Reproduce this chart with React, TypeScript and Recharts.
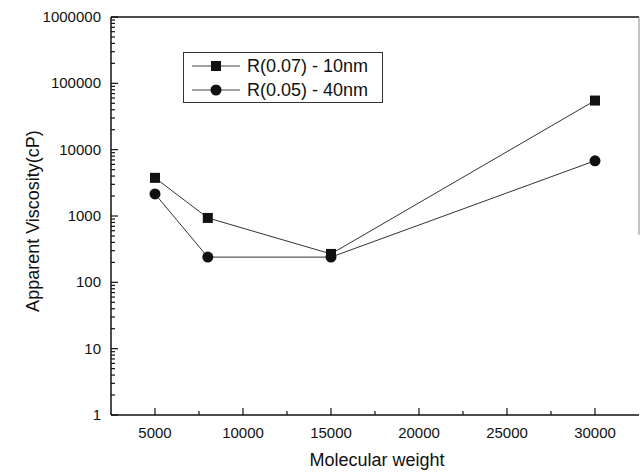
import { LineChart, Line, XAxis, YAxis, ReferenceLine, Label } from "recharts";

const weights = [5000, 8000, 15000, 30000];
const r07 = [3760, 935, 268, 55000];
const r05 = [2150, 240, 240, 6800];

const xTicks = [5000, 7500, 10000, 12500, 15000, 17500, 20000, 22500, 25000, 27500, 30000];
const xMajor = [5000, 10000, 15000, 20000, 25000, 30000];
const yMajor = [1, 10, 100, 1000, 10000, 100000, 1000000];
const yTicks = yMajor.flatMap((d) => (d === 1000000 ? [d] : [1, 2, 3, 4, 5, 6, 7, 8, 9].map((m) => m * d)));

const FONT = "Arial, 'Liberation Sans', Helvetica, sans-serif";
const INK = "#111";

const data = weights.map((w, i) => ({ w, r07: r07[i], r05: r05[i] }));

function XTick(props: any) {
  const { x, y, payload } = props;
  const major = xMajor.includes(payload.value);
  return (
    <g>
      <line x1={x} x2={x} y1={y} y2={y - (major ? 7 : 4)} stroke={INK} strokeWidth={1.2} />
      {major && (
        <text x={x} y={y + 23} textAnchor="middle" fontSize={15} fontFamily={FONT} fill={INK}>
          {payload.value}
        </text>
      )}
    </g>
  );
}

function YTick(props: any) {
  const { x, y, payload } = props;
  const major = yMajor.includes(payload.value);
  return (
    <g>
      <line x1={x} x2={x + (major ? 7 : 4)} y1={y} y2={y} stroke={INK} strokeWidth={1.2} />
      {major && (
        <text x={x - 10} y={y + 5} textAnchor="end" fontSize={15} fontFamily={FONT} fill={INK}>
          {payload.value}
        </text>
      )}
    </g>
  );
}

function SquareDot(p: any) {
  return <rect key={`s${p.index}`} x={p.cx - 5} y={p.cy - 5} width={10} height={10} fill={INK} />;
}

function CircleDot(p: any) {
  return <circle key={`c${p.index}`} cx={p.cx} cy={p.cy} r={5.5} fill={INK} />;
}

function LegendBox() {
  const rows = [
    { name: "R(0.07) - 10nm", square: true },
    { name: "R(0.05) - 40nm", square: false },
  ];
  return (
    <div
      style={{
        position: "absolute",
        left: 183,
        top: 52,
        width: 200,
        height: 51,
        boxSizing: "border-box",
        border: "1px solid #333",
        background: "#fff",
        fontFamily: FONT,
      }}
    >
      <svg width={198} height={49} style={{ display: "block" }}>
        {rows.map((r, i) => {
          const cy = 13 + i * 24;
          return (
            <g key={r.name}>
              <line x1={8} x2={56} y1={cy} y2={cy} stroke="#444" strokeWidth={1} />
              {r.square ? (
                <rect x={27} y={cy - 5} width={10} height={10} fill={INK} />
              ) : (
                <circle cx={32} cy={cy} r={5.5} fill={INK} />
              )}
              <text x={63} y={cy + 6} fontSize={18} fill={INK}>
                {r.name}
              </text>
            </g>
          );
        })}
      </svg>
    </div>
  );
}

export default function App() {
  return (
    <div style={{ position: "absolute", left: 0, top: 0, width: 640, height: 473, background: "#fff" }}>
      <LineChart width={640} height={473} data={data} margin={{ top: 17, right: 1, bottom: 0, left: 0 }}>
        <XAxis
          dataKey="w"
          type="number"
          domain={[2500, 32500]}
          ticks={xTicks}
          interval={0}
          height={58}
          tickSize={0}
          tickMargin={0}
          tickLine={false}
          tick={<XTick />}
          axisLine={{ stroke: INK, strokeWidth: 1.5 }}
        >
          <Label
            content={(p: any) => {
              const vb = p.viewBox;
              return (
                <text x={vb.x + vb.width / 2 + 2} y={466} textAnchor="middle" fontSize={18} fontFamily={FONT} fill={INK}>
                  Molecular weight
                </text>
              );
            }}
          />
        </XAxis>
        <YAxis
          scale="log"
          type="number"
          domain={[1, 1000000]}
          allowDataOverflow
          ticks={yTicks}
          interval={0}
          width={111}
          tickSize={0}
          tickMargin={0}
          tickLine={false}
          tick={<YTick />}
          axisLine={{ stroke: INK, strokeWidth: 1.5 }}
        >
          <Label
            content={(p: any) => {
              const vb = p.viewBox;
              const cy = vb.y + vb.height / 2 + 5;
              return (
                <text x={33} y={cy} transform={`rotate(-90, 33, ${cy})`} dy={6} textAnchor="middle" fontSize={18} fontFamily={FONT} fill={INK}>
                  Apparent Viscosity(cP)
                </text>
              );
            }}
          />
        </YAxis>
        <ReferenceLine
          segment={[
            { x: 2500, y: 1000000 },
            { x: 32500, y: 1000000 },
          ]}
          stroke={INK}
          strokeWidth={1.5}
        />
        <ReferenceLine
          segment={[
            { x: 32500, y: 1000000 },
            { x: 32500, y: 520 },
          ]}
          stroke="#888"
          strokeWidth={1}
        />
        <Line dataKey="r07" name="R(0.07) - 10nm" stroke="#333" strokeWidth={1} dot={SquareDot} activeDot={false} isAnimationActive={false} />
        <Line dataKey="r05" name="R(0.05) - 40nm" stroke="#333" strokeWidth={1} dot={CircleDot} activeDot={false} isAnimationActive={false} />
      </LineChart>
      <LegendBox />
    </div>
  );
}
